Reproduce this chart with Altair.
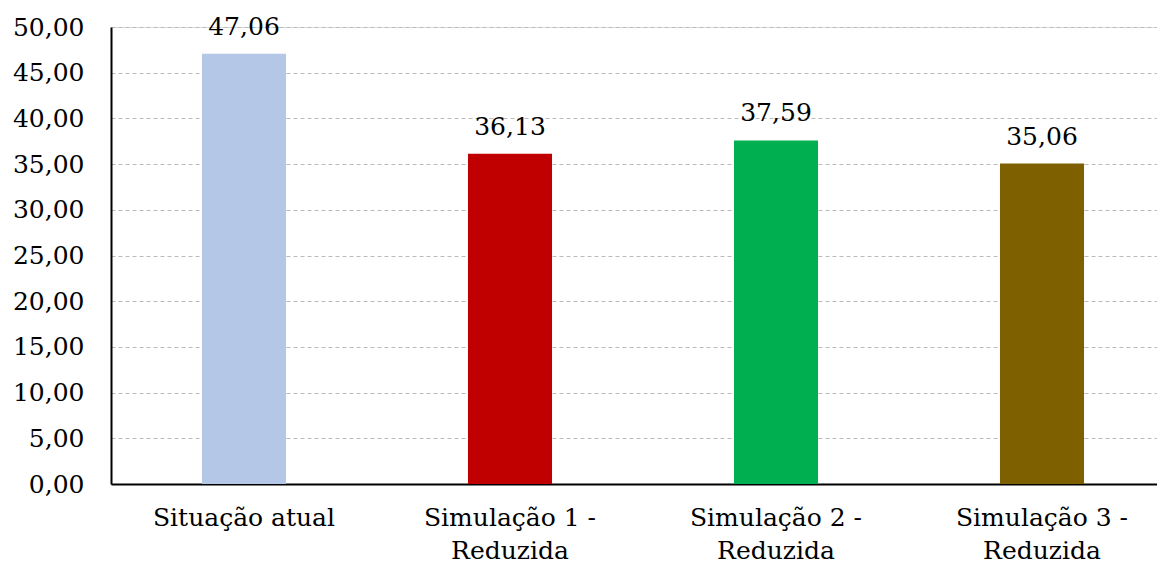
import altair as alt
import pandas as pd

categories = ["Situação atual", "Simulação 1 - Reduzida", "Simulação 2 - Reduzida", "Simulação 3 - Reduzida"]
values = [47.06, 36.13, 37.59, 35.06]
colors = ["#B4C7E7", "#C00000", "#00B050", "#7F6000"]
y_ticks = [0, 5, 10, 15, 20, 25, 30, 35, 40, 45, 50]

df = pd.DataFrame({"cat": categories, "val": values, "color": colors})

FONT = "DejaVu Serif"
FS = 25

x = alt.X("cat:N", sort=categories, title=None,
          scale=alt.Scale(paddingInner=0.684, paddingOuter=0.342, range=[0, 1064]),
          axis=alt.Axis(labelAngle=0, labelFont=FONT, labelFontSize=FS, labelColor="black",
                        labelPadding=21, ticks=False, domainColor="black", domainWidth=2,
                        labelLimit=500,
                        labelExpr="datum.label == 'Situação atual' ? datum.label : [slice(datum.label, 0, 13), slice(datum.label, 14)]",
                        labelLineHeight=33, labelBaseline="top"))
y = alt.Y("val:Q", title=None,
          scale=alt.Scale(domain=[0, 50], nice=False),
          axis=alt.Axis(values=y_ticks, labelFont=FONT, labelFontSize=FS, labelColor="black",
                        labelPadding=27, ticks=False, domainColor="black", domainWidth=2,
                        gridColor="#BBBBBB", gridDash=[4, 3], gridWidth=1.2,
                        labelExpr="replace(format(datum.value, '.2f'), '.', ',')"))

base = alt.Chart(df).encode(x=x, y=y)

bars = base.mark_bar().encode(color=alt.Color("color:N", scale=None))
texts = base.transform_calculate(
    lbl="replace(format(datum.val, '.2f'), '.', ',')"
).mark_text(font=FONT, fontSize=FS, color="black", baseline="alphabetic", dy=-19).encode(
    text="lbl:N")

chart = (bars + texts).properties(
    width=1046, height=457,
    padding={"left": 103, "top": 19, "right": 0, "bottom": 81},
    autosize=alt.AutoSizeParams(type="none"),
).configure_view(stroke=None).configure(background="white")

chart.save("out.html", embed_options={"renderer": "svg", "actions": False})
